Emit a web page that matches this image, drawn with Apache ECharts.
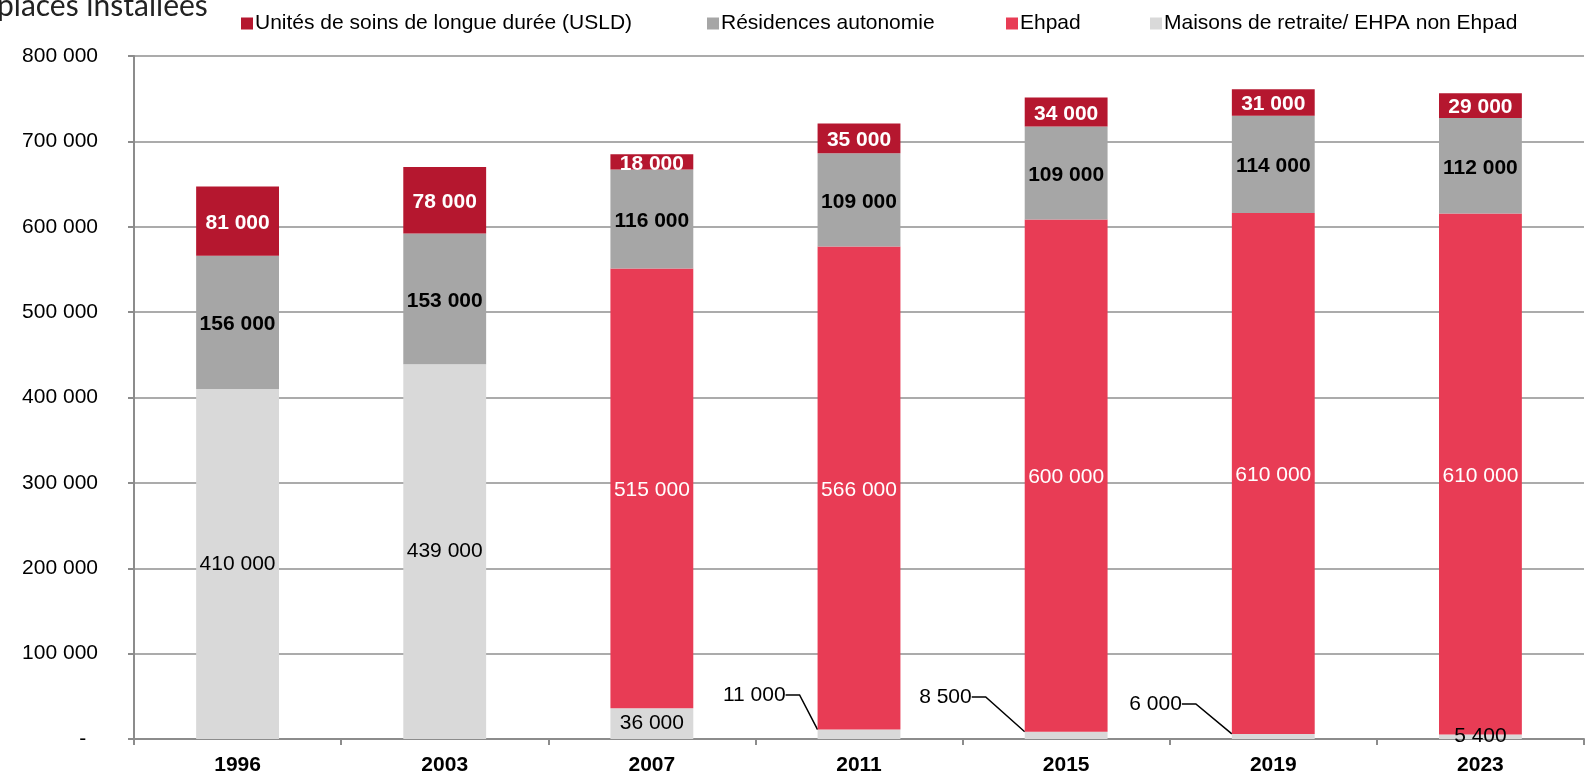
<!DOCTYPE html>
<html>
<head>
<meta charset="utf-8">
<script src="https://cdn.jsdelivr.net/npm/echarts@6/dist/echarts.min.js"></script>
<style>
  html, body { margin: 0; padding: 0; background: #fff; }
  #chart { width: 1593px; height: 776px; }
</style>
</head>
<body>
<div id="chart"></div>
<script>
// données (places installées)
var years = ['1996', '2003', '2007', '2011', '2015', '2019', '2023'];
var maisons = [410000, 439000, 36000, 11000, 8500, 6000, 5400];
var ehpad = ['-', '-', 515000, 566000, 600000, 610000, 610000];
var residences = [156000, 153000, 116000, 109000, 109000, 114000, 112000];
var usld = [81000, 78000, 18000, 35000, 34000, 31000, 29000];
var yTicks = [0, 100000, 200000, 300000, 400000, 500000, 600000, 700000, 800000];

var font = 'Arial, "Liberation Sans", sans-serif';

function fmt(v) {
  return String(v).replace(/\B(?=(\d{3})+(?!\d))/g, ' ');
}

var myChart = echarts.init(document.getElementById('chart'));

// légende : une par item, comme dans Excel
function legendItem(name, left) {
  return {
    data: [name],
    left: left,
    top: 8,
    icon: 'rect',
    itemWidth: 12,
    itemHeight: 12,
    selectedMode: false,
    textStyle: { fontFamily: font, fontSize: 21, color: '#000', padding: [0, 0, 0, -3] }
  };
}

// décalage des étiquettes sorties de la barre (2011, 2015, 2019)
var outside = { 3: [32, 44], 4: [53, 42], 5: [50, 35] };

// seules ces étiquettes ont un trait de rappel
var maisonsData = maisons.map(function (v, i) {
  return outside[i] ? { value: v, labelLine: { show: true } } : v;
});

var option = {
  animation: false,
  title: {
    text: 'places installées',
    left: -8,
    top: -14,
    textStyle: { fontFamily: 'Lato', fontSize: 30, fontWeight: 'normal', color: '#222' }
  },
  legend: [
    legendItem('Unités de soins de longue durée (USLD)', 236),
    legendItem('Résidences autonomie', 702),
    legendItem('Ehpad', 1001),
    legendItem('Maisons de retraite/ EHPA non Ehpad', 1145)
  ],
  grid: { left: 134, right: 9, top: 56, bottom: 36 },
  xAxis: {
    type: 'category',
    data: years,
    axisLine: { lineStyle: { color: '#8C8C8C', width: 2 } },
    axisTick: { show: true, length: 6, lineStyle: { color: '#8C8C8C', width: 2 } },
    axisLabel: { fontFamily: font, fontSize: 21, fontWeight: 'bold', color: '#000', margin: 16 }
  },
  yAxis: {
    type: 'value',
    min: yTicks[0],
    max: yTicks[yTicks.length - 1],
    interval: yTicks[1] - yTicks[0],
    axisLine: { show: true, lineStyle: { color: '#8C8C8C', width: 2 } },
    axisTick: { show: true, length: 6, lineStyle: { color: '#8C8C8C', width: 2 } },
    splitLine: { lineStyle: { color: '#ABABAB', width: 2 } },
    axisLabel: {
      fontFamily: font, fontSize: 21, color: '#000', margin: 36,
      formatter: function (v) { return v === 0 ? '-  ' : fmt(v); }
    }
  },
  series: [
    {
      name: 'Maisons de retraite/ EHPA non Ehpad',
      type: 'bar',
      stack: 'total',
      barWidth: '40%',
      itemStyle: { color: '#D9D9D9' },
      label: {
        show: true, position: 'inside', fontFamily: font, fontSize: 21, color: '#000',
        formatter: function (p) { return fmt(p.value); }
      },
      labelLine: { show: false, length2: 14, lineStyle: { color: '#000', width: 1.5 } },
      labelLayout: function (params) {
        var o = outside[params.dataIndex];
        if (o) {
          return {
            x: params.rect.x - o[0],
            y: params.rect.y + params.rect.height - o[1],
            align: 'right',
            verticalAlign: 'middle'
          };
        }
      },
      data: maisonsData
    },
    {
      name: 'Ehpad',
      type: 'bar',
      stack: 'total',
      itemStyle: { color: '#E83C55' },
      label: {
        show: true, position: 'inside', offset: [0, 2], fontFamily: font, fontSize: 21, color: '#fff',
        formatter: function (p) { return fmt(p.value); }
      },
      data: ehpad
    },
    {
      name: 'Résidences autonomie',
      type: 'bar',
      stack: 'total',
      itemStyle: { color: '#A6A6A6' },
      label: {
        show: true, position: 'inside', offset: [0, 2], fontFamily: font, fontSize: 21, fontWeight: 'bold', color: '#000',
        formatter: function (p) { return fmt(p.value); }
      },
      data: residences
    },
    {
      name: 'Unités de soins de longue durée (USLD)',
      type: 'bar',
      stack: 'total',
      itemStyle: { color: '#B5172F' },
      label: {
        show: true, position: 'inside', offset: [0, 2], fontFamily: font, fontSize: 21, fontWeight: 'bold', color: '#fff',
        formatter: function (p) { return fmt(p.value); }
      },
      data: usld
    }
  ]
};

myChart.setOption(option);
</script>
</body>
</html>
